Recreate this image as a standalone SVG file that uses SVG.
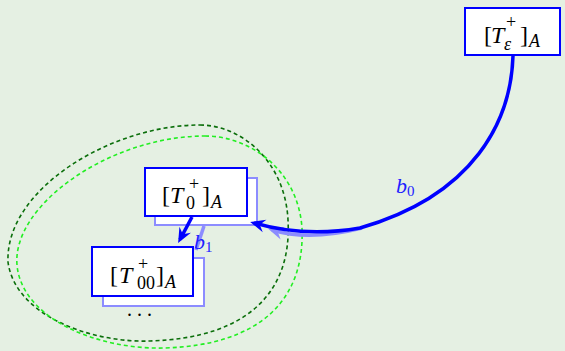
<svg xmlns="http://www.w3.org/2000/svg" width="565" height="351" viewBox="0 0 565 351">
<style>
.bg{fill:#e5f0e3}
.box{fill:#ffffff;stroke:#0000ff;stroke-width:2}
.sbox{fill:#ffffff;stroke:#8c8cff;stroke-width:2}
.m{font-family:"Liberation Serif","Times New Roman",serif;font-size:24px;fill:#000}
.s{font-size:18px}
.i{font-style:italic}
.lbl{font-family:"Liberation Serif","Times New Roman",serif;font-size:22px;fill:#2020ff}
.ls{font-size:15px;font-style:normal}
.dk{fill:none;stroke:#0a6e0a;stroke-width:1.6;stroke-dasharray:4 3}
.lt{fill:none;stroke:#22ee22;stroke-width:1.6;stroke-dasharray:4 3}
.arr{fill:none;stroke:#0000ff;stroke-width:3.5}
.sarr{fill:none;stroke:#8c8cff;stroke-width:3.5}
</style>
<defs>
<marker id="head" viewBox="-12 -7 18 14" markerWidth="18" markerHeight="14" refX="0" refY="0" orient="auto" markerUnits="userSpaceOnUse" overflow="visible">
<path d="M4,0 L-11,-6.5 L-6,0 L-11,6.5 Z" fill="#0000ff"/>
</marker>
<marker id="shead" viewBox="-12 -7 18 14" markerWidth="18" markerHeight="14" refX="0" refY="0" orient="auto" markerUnits="userSpaceOnUse" overflow="visible">
<path d="M4,0 L-11,-6.5 L-6,0 L-11,6.5 Z" fill="#8c8cff"/>
</marker>
</defs>
<rect class="bg" x="0" y="0" width="565" height="351"/>
<g id="regions">
<path class="dk" d="M200,125 C240,125 285,160 288,220 C292,290 250,338 150,341 C90,343 15,315 8,262 C5,190 110,125 200,125 Z"/>
<path class="lt" d="M205,136 C250,136 298,170 302,228 C305,300 260,345 165,348 C100,350 22,320 17,265 C12,205 110,136 205,136 Z"/>
</g>
<g id="node-eps">
<rect class="box" x="465" y="8" width="95" height="47"/>
<text class="m"><tspan x="484" y="43">[</tspan><tspan class="i" x="491" y="43">T</tspan><tspan class="s" x="506" y="28">+</tspan><tspan class="s i" x="504" y="50">ε</tspan><tspan x="520" y="43">]</tspan><tspan class="s i" x="529" y="47">A</tspan></text>
</g>
<g id="node-0">
<rect class="sbox" x="155" y="178" width="102" height="47"/>
<rect class="box" x="145" y="168" width="102" height="48"/>
<text class="m"><tspan x="162" y="203">[</tspan><tspan class="i" x="170" y="203">T</tspan><tspan class="s" x="189" y="190">+</tspan><tspan class="s" x="186" y="209">0</tspan><tspan x="202" y="203">]</tspan><tspan class="s i" x="211" y="208">A</tspan></text>
</g>
<g id="node-00">
<rect class="sbox" x="103" y="258" width="101" height="48"/>
<rect class="box" x="92" y="247" width="101" height="49"/>
<text class="m"><tspan x="110" y="283">[</tspan><tspan class="i" x="119" y="283">T</tspan><tspan class="s" x="138" y="270">+</tspan><tspan class="s" x="137" y="289">00</tspan><tspan x="156" y="283">]</tspan><tspan class="s i" x="165" y="288">A</tspan></text>
<text class="m" x="127" y="316" style="font-size:20px">. . .</text>
</g>
<g id="connectors">
<path class="sarr" d="M362,228 C322,238 295,237 272,230" marker-end="url(#shead)"/>
<path class="sarr" d="M204,226 L196,250"/>
<path class="arr" d="M513,56 C511,120 475,195 360,228 C320,235 285,232 254,223" marker-end="url(#head)"/>
<path class="arr" d="M192,217 L180,239.5" marker-end="url(#head)"/>
<text class="lbl"><tspan class="i" x="396" y="193">b</tspan><tspan class="ls" x="407" y="196">0</tspan></text>
<text class="lbl"><tspan class="i" x="194" y="249">b</tspan><tspan class="ls" x="205" y="252">1</tspan></text>
</g>
</svg>
